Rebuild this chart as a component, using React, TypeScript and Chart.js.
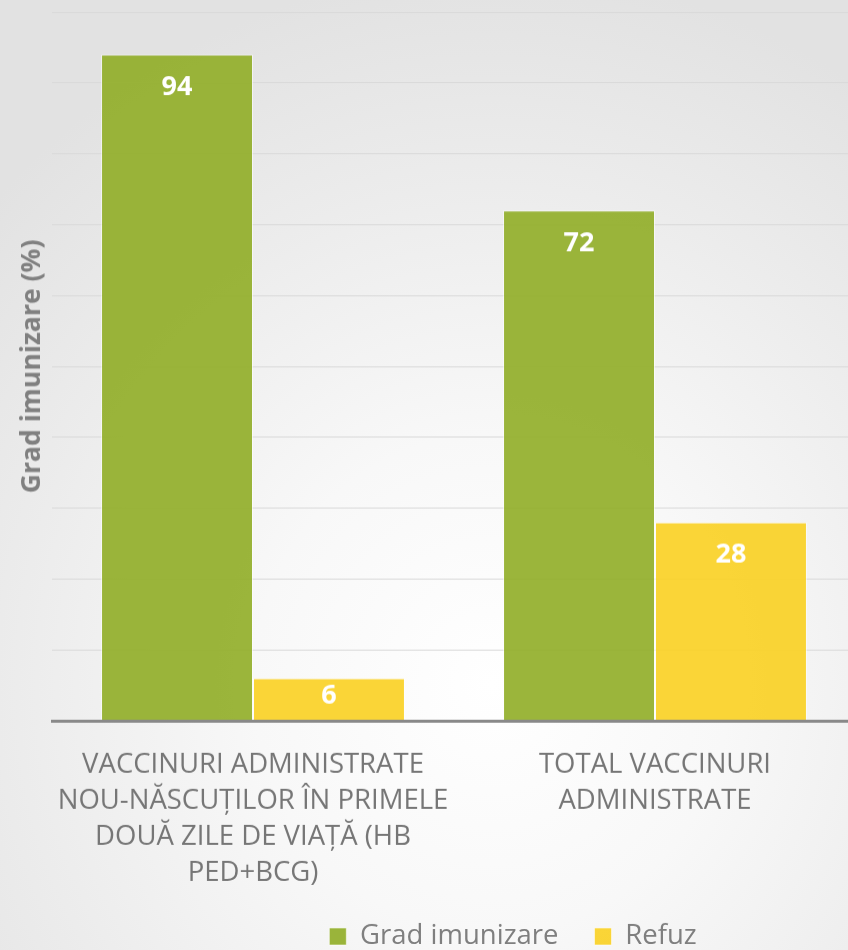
import React, { useEffect, useRef } from "react";
import { Chart, registerables } from "chart.js";

Chart.register(...registerables);

const categories: string[][] = [
  ["VACCINURI ADMINISTRATE", "NOU-NĂSCUȚILOR ÎN PRIMELE", "DOUĂ ZILE DE VIAȚĂ (HB", "PED+BCG)"],
  ["TOTAL VACCINURI", "ADMINISTRATE"],
];
const seriesNames = ["Grad imunizare", "Refuz"];
const gradImunizare = [94, 72];
const refuz = [6, 28];
const yTitle = "Grad imunizare (%)";
const yMin = 0;
const yMax = 100;
const yStep = 10;

const FONT = "'Open Sans', 'Noto Sans', sans-serif";

const valueLabels = {
  id: "valueLabels",
  afterDatasetsDraw(chart: any) {
    const ctx = chart.ctx;
    ctx.save();
    ctx.fillStyle = "#ffffff";
    ctx.font = `bold 27px ${FONT}`;
    ctx.textAlign = "center";
    ctx.textBaseline = "middle";
    chart.data.datasets.forEach((ds: any, i: number) => {
      const meta = chart.getDatasetMeta(i);
      meta.data.forEach((el: any, j: number) => {
        const { x, y, base } = el.getProps(["x", "y", "base"], true);
        const ly = Math.min(y + 33, (y + base) / 2 - 3);
        ctx.fillText(String(ds.data[j]), x, ly);
      });
    });
    ctx.restore();
  },
};

const legendPlace = {
  id: "legendPlace",
  afterLayout(chart: any) {
    const lg = chart.legend;
    if (!lg) return;
    const h = lg.height;
    lg.top = 885.75;
    lg.bottom = 885.75 + h;
    const shift = 513 - (lg.left + lg.right) / 2;
    lg.left += shift;
    lg.right += shift;
  },
};

export default function App() {
  const ref = useRef<HTMLCanvasElement>(null);
  useEffect(() => {
    if (!ref.current) return;
    const chart: any = new Chart(ref.current, {
      type: "bar",
      data: {
        labels: categories,
        datasets: [
          {
            label: seriesNames[0],
            data: gradImunizare,
            backgroundColor: "rgba(144,173,38,0.9)",
            borderColor: "rgba(255,255,255,0.55)",
            borderWidth: 1,
          },
          {
            label: seriesNames[1],
            data: refuz,
            backgroundColor: "rgba(249,208,33,0.9)",
            borderColor: "rgba(255,255,255,0.55)",
            borderWidth: 1,
          },
        ],
      },
      options: {
        animation: false,
        responsive: true,
        maintainAspectRatio: false,
        layout: { padding: { left: 0, top: 12, right: 14, bottom: 0 } },
        datasets: { bar: { categoryPercentage: 0.756, barPercentage: 1 } },
        scales: {
          x: {
            grid: { display: false, drawTicks: false },
            border: { display: true, color: "#898989", width: 3, z: 1 },
            ticks: {
              color: "#767676",
              padding: 26,
              maxRotation: 0,
              autoSkip: false,
              font: { family: FONT, size: 27.5, lineHeight: 36 / 27.5 },
            },
          },
          y: {
            min: yMin,
            max: yMax,
            ticks: { display: false, stepSize: yStep },
            grid: { color: "#d9d9d9", lineWidth: 1, drawTicks: false },
            border: { display: false },
            title: {
              display: true,
              text: yTitle,
              color: "#808080",
              font: { family: FONT, size: 26.5, weight: "bold", lineHeight: 1.2 },
              padding: { top: 16.1, bottom: 4.1 },
            },
          },
        },
        plugins: {
          legend: {
            display: true,
            position: "bottom",
            labels: {
              color: "#7f7f7f",
              boxWidth: 17,
              boxHeight: 17,
              padding: 36,
              font: { family: FONT, size: 27.5 },
            },
          },
          tooltip: { enabled: false },
        },
      },
      plugins: [valueLabels, legendPlace],
    });
    return () => chart.destroy();
  }, []);

  return (
    <div
      style={{
        position: "fixed",
        left: 0,
        top: 0,
        width: 848,
        height: 950,
        overflow: "hidden",
        background:
          "radial-gradient(ellipse 80% 75% at 58% 72%, #ffffff 0%, #f8f8f8 35%, #ececec 70%, #e2e2e2 100%)",
      }}
    >
      <div style={{ position: "absolute", left: 0, top: 0, width: 870, height: 989.5 }}>
        <canvas ref={ref} />
      </div>
    </div>
  );
}
